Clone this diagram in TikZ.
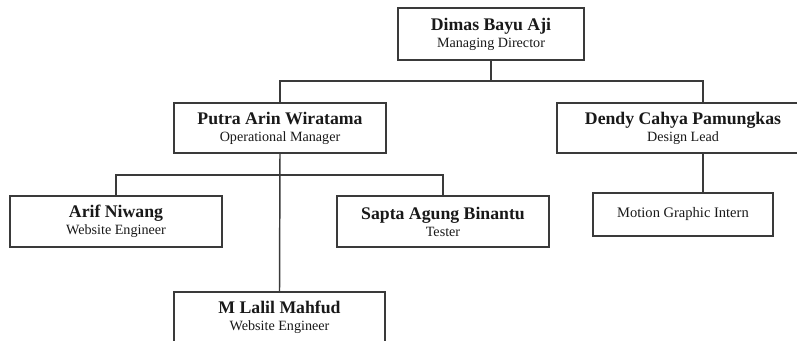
\documentclass[tikz,border=0pt]{standalone}
\usepackage{fontspec}
\setmainfont{Liberation Serif}
\begin{document}
\begin{tikzpicture}[x=0.75pt,y=-0.75pt,
  box/.style={draw=linegray,line width=1.1pt,fill=white,rectangle,inner sep=0pt,align=center,text=black!90,
    font=\fontsize{10.6}{12.75}\selectfont},
  conn/.style={draw=linegray,line width=1.1pt}]
\definecolor{linegray}{HTML}{3A3A3A}
\useasboundingbox (0,0) rectangle (797,340);
\clip (0,0) rectangle (797,340);
\newcommand{\nmtext}[1]{{\fontsize{13.3}{12.75}\selectfont\bfseries #1}}
\coordinate (h1l) at (280,81);
\coordinate (h1r) at (703,81);
\coordinate (h1m) at (491,81);
\coordinate (h2l) at (116,175);
\coordinate (h2r) at (443,175);
% boxes
\node[box,minimum width=139.5pt,minimum height=39pt] (ceo) at (491,34) {\nmtext{Dimas Bayu Aji}\\Managing Director};
\node[box,minimum width=159pt,minimum height=37.5pt] (putra) at (280,128) {\nmtext{Putra Arin Wiratama}\\Operational Manager};
\node[box,minimum width=189pt,minimum height=37.5pt] (dendy) at (683,128) {\nmtext{Dendy Cahya Pamungkas}\\Design Lead};
\node[box,minimum width=159pt,minimum height=38.25pt] (arif) at (116,221.5) {\nmtext{Arif Niwang}\\Website Engineer};
\node[box,minimum width=159pt,minimum height=38.25pt] (sapta) at (443,221.5) {\nmtext{Sapta Agung Binantu}\\Tester};
\node[box,minimum width=135pt,minimum height=32.25pt,font=\fontsize{10.9}{12.75}\selectfont] (motion) at (683,214.5) {Motion Graphic Intern};
\node[box,minimum width=158.25pt,minimum height=37.5pt] (lalil) at (279.5,317) {\nmtext{M Lalil Mahfud}\\Website Engineer};
% connectors
\draw[conn] (ceo.south) -- (h1m);
\draw[conn] (putra.north) -- (h1l) -- (h1r) -- (h1r |- dendy.north);
\draw[conn] (h1r |- dendy.south) -- (h1r |- motion.north);
\draw[conn] (arif.north) -- (h2l) -- (h2r) -- (sapta.north);
\draw[conn] (putra.south) -- (lalil.north);
\end{tikzpicture}
\end{document}
